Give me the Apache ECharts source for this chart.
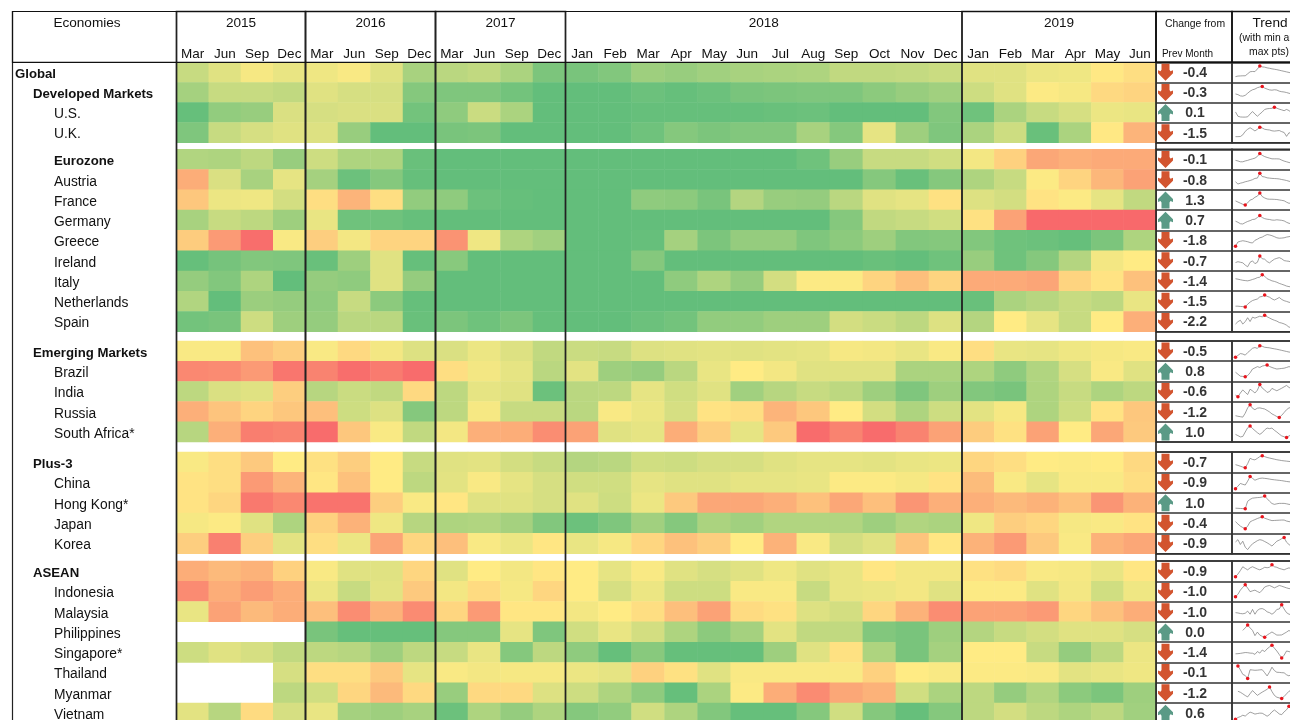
<!DOCTYPE html>
<html>
<head>
<meta charset="utf-8">
<title>Economies heatmap</title>
<script src="https://cdn.jsdelivr.net/npm/echarts@6/dist/echarts.min.js"></script>
<style>
  html, body { margin: 0; padding: 0; background: #fff; }
  #chart { width: 1290px; height: 720px; overflow: hidden; }
</style>
</head>
<body>
<div id="chart"></div>
<script>
// column headers
const years = ['2015', '2016', '2017', '2018', '2019']
const yearMonths = [
  ['Mar', 'Jun', 'Sep', 'Dec'],
  ['Mar', 'Jun', 'Sep', 'Dec'],
  ['Mar', 'Jun', 'Sep', 'Dec'],
  ['Jan', 'Feb', 'Mar', 'Apr', 'May', 'Jun', 'Jul', 'Aug', 'Sep', 'Oct', 'Nov', 'Dec'],
  ['Jan', 'Feb', 'Mar', 'Apr', 'May', 'Jun']
]

// rows, in blocks split by white gaps
const economies = [
  'Global', 'Developed Markets', 'U.S.', 'U.K.',
  'Eurozone', 'Austria', 'France', 'Germany', 'Greece', 'Ireland', 'Italy', 'Netherlands', 'Spain',
  'Emerging Markets', 'Brazil', 'India', 'Russia', 'South Africa*',
  'Plus-3', 'China', 'Hong Kong*', 'Japan', 'Korea',
  'ASEAN', 'Indonesia', 'Malaysia', 'Philippines', 'Singapore*', 'Thailand', 'Myanmar', 'Vietnam'
]
const boldRows = ['Global', 'Developed Markets', 'Eurozone', 'Emerging Markets', 'Plus-3', 'ASEAN']
const groupRows = ['Developed Markets', 'Emerging Markets', 'Plus-3', 'ASEAN']
const blockSizes = [4, 9, 5, 5, 8]

// estimated from the colours: 0 = red, 50 = yellow, 100 = green
const heatValues = [
  [68,60,53,57, 55,52,60,78, 72,70,77,92, 93,90,81,83,80,78,77,76,70,70,69,67, 60,60,56,55,49,45],
  [79,68,68,70, 60,63,63,89, 91,91,95,100, 100,100,97,99,97,93,92,91,91,87,83,80, 66,60,51,53,43,41],
  [99,85,83,62, 63,62,62,95, 86,67,77,100, 100,100,99,99,99,99,98,97,100,100,100,90, 96,77,68,63,56,57],
  [91,68,63,60, 61,83,100,100, 93,92,100,100, 100,100,96,89,92,90,90,78,89,58,81,91, 77,66,98,77,49,29],
  [75,76,71,83, 66,76,76,98, 100,100,100,100, 100,100,100,100,100,100,100,96,83,68,68,65, 54,40,24,27,25,25],
  [26,62,78,58, 79,97,89,99, 100,100,100,100, 100,100,100,100,100,100,100,100,100,89,98,89, 76,68,51,41,30,22],
  [36,56,55,64, 45,29,45,85, 86,97,99,100, 100,100,86,87,93,74,83,84,72,60,58,46, 61,64,47,51,58,70],
  [78,68,71,81, 57,96,96,99, 100,100,100,100, 100,100,100,100,100,100,100,100,89,70,68,65, 46,22,0,0,0,0],
  [38,19,2,52, 39,54,41,41, 16,55,76,80, 100,100,99,79,92,84,84,91,87,81,90,89, 90,96,97,99,92,76],
  [99,94,90,91, 98,81,60,99, 88,100,100,100, 100,100,89,100,100,100,100,100,100,98,100,96, 83,96,89,74,54,50],
  [84,90,76,100, 84,86,60,84, 100,100,100,100, 100,100,100,86,76,84,64,51,51,41,33,41, 25,25,23,41,47,34],
  [75,100,82,84, 86,68,87,99, 100,100,100,100, 100,100,100,100,100,100,100,100,100,100,100,100, 98,77,73,68,71,57],
  [95,93,66,81, 84,72,72,98, 92,96,92,99, 100,100,97,95,85,85,81,81,64,67,71,61, 74,50,58,68,50,27],
  [52,52,34,39, 52,43,54,61, 62,56,61,70, 67,68,61,60,59,60,59,58,53,54,57,52, 45,57,58,55,53,52],
  [12,13,19,5, 10,2,7,1, 45,54,58,72, 59,81,84,72,57,50,54,60,60,60,77,77, 76,86,75,63,52,60],
  [71,62,60,39, 73,67,70,43, 71,58,60,97, 72,71,58,65,60,80,73,68,71,81,91,81, 90,93,76,68,76,71],
  [27,35,41,36, 33,66,61,89, 71,53,68,68, 72,52,56,63,47,45,29,36,50,64,76,66, 59,53,76,66,47,36],
  [73,27,8,10, 1,36,52,70, 54,27,26,14, 22,60,58,26,39,58,37,1,10,1,10,22, 38,46,22,50,24,37],
  [52,45,37,50, 46,39,50,68, 60,59,64,68, 74,72,65,66,63,63,60,58,58,59,57,56, 42,45,50,51,50,43],
  [47,45,19,29, 48,34,50,71, 59,52,58,63, 65,65,58,60,60,58,58,57,51,51,53,47, 32,52,58,52,52,45],
  [47,42,6,12, 4,4,39,52, 48,60,60,63, 60,66,56,37,24,24,27,34,24,33,17,27, 27,31,28,34,17,28],
  [53,51,60,76, 40,28,55,73, 76,75,79,90, 97,91,80,89,77,80,75,75,75,81,75,77, 55,39,42,53,52,47],
  [39,9,39,59, 45,56,23,42, 33,52,56,48, 57,53,42,34,39,50,28,52,64,60,35,48, 28,19,37,52,28,24],
  [26,31,28,40, 52,60,60,42, 60,50,54,48, 50,58,52,60,63,60,55,60,57,48,54,54, 46,44,52,53,57,48],
  [13,26,20,26, 56,68,59,37, 54,44,53,42, 50,63,56,66,66,52,52,68,57,56,54,60, 51,51,60,54,65,55],
  [57,22,31,26, 33,14,28,13, 42,19,48,48, 54,50,45,33,22,44,46,61,64,42,28,14, 22,22,19,42,34,26],
  [null,null,null,null, 93,99,99,99, 89,89,58,91, 65,57,64,76,87,79,59,70,70,90,93,81, 74,68,64,60,60,63],
  [66,60,63,70, 71,73,81,71, 68,57,89,71, 86,99,88,99,99,99,81,60,46,76,93,79, 50,50,68,84,71,56],
  [null,null,null,63, 45,45,37,58, 52,54,53,53, 56,58,40,46,60,52,52,52,52,40,50,52, 51,51,52,59,57,55],
  [null,null,null,71, 65,42,31,43, 83,43,43,61, 66,76,86,99,77,51,26,13,24,28,65,77, 71,84,75,87,92,81],
  [59,73,44,63, 57,79,81,78, 97,76,84,76, 89,85,65,76,90,99,99,89,65,89,99,89, 71,64,71,76,71,80]
]

const changeValues = [
  -0.4, -0.3, 0.1, -1.5,
  -0.1, -0.8, 1.3, 0.7, -1.8, -0.7, -1.4, -1.5, -2.2,
  -0.5, 0.8, -0.6, -1.2, 1.0,
  -0.7, -0.9, 1.0, -0.4, -0.9,
  -0.9, -1.0, -1.0, 0.0, -1.4, -0.1, -1.2, 0.6
]

// sparkline levels, the last points run past the picture's edge
const trendValues = [
  [2,2.4,2.5,2.6,2.6,4,5.5,5.7,5.6,7.5,9.6,9,8.8,8.3,8,7.6,7.3,7,6.6,6.2,5.8,5.4,5,4.6,4,3.4,2.8,2.2,1.6,1],
  [4,3.5,2.6,2.4,3,4.5,6,7,7.5,8.5,9,9.3,8.2,7.5,6.9,6.7,7,6.8,6,5.6,5.4,5,4.5,4,3.5,3,2.5,2,1.5,1],
  [5.5,2.4,1.9,1.8,1.8,2,4,5.8,4,2.4,4,5.5,7.3,7.8,8,8.1,8.9,8.2,7.5,7,6.4,7.3,6.5,5,4,3,2,1.5,1.2,1],
  [2.2,2.2,2.3,3.5,6,7.5,8.6,7.5,6.3,7.5,8.9,8.4,7.5,7.2,7,6.4,6.2,6.4,6.6,5.8,5.2,2.4,5,4.5,4,3.5,3,2.5,2,1.4],
  [4.4,4,3.4,3.4,4,4.4,5,5.5,6,7.2,9.3,8,7.1,6.5,6,5.5,5.5,5.5,5.4,4.6,3.9,3.4,2.9,2.5,2.2,2,1.8,1.5,1.2,1],
  [3.6,2,2.6,3,3.6,4,4.5,5.1,6,6.2,9.6,7.3,7,6.4,6.2,6,5.9,5.8,5.6,5.2,4.9,4.5,4,3.5,3,2.6,2.2,1.8,1.4,1],
  [4.4,3.6,2.8,2,1.5,3,5,5.6,7,7.8,10,7.5,6.5,5.8,5.6,5.6,5.5,5.4,5.1,4.8,4.5,3.5,2.7,3,3.2,2.8,3,2.5,2.6,2.2],
  [4.4,3.6,2.6,2.4,3.4,4.2,4.8,5.6,5.8,7,8.4,7,6.2,5.8,5.6,5.2,5.1,5.4,5.2,5,4.6,3.6,2.9,2.6,2.3,2,1.8,1.6,1.3,1],
  [1,4,4.5,4.9,4.6,4.2,3.6,3.3,5.2,6,7,7.5,8.5,9.3,9,8.5,7.8,7,6.7,6.8,7,7.5,7.8,8.2,8.6,9,9.5,10,9.6,9],
  [3.8,4.4,4,3.6,2,0.8,4,5,3,4,8.4,6.5,6.2,4.5,3.6,5,6.2,6.8,7.3,6.5,5.2,4.9,4.7,4,3,2,0.4,1.5,2,2.5],
  [6.7,6.4,6,5.6,5.4,5.2,5.6,6.2,6.7,7.5,7.8,9.6,8.5,6.7,6,5.2,4.8,4.2,3.4,2.8,2.2,1.5,1.1,0.9,0.7,0.6,0.5,0.4,0.3,0.2],
  [1.6,1.6,1.4,1.3,1,3,4.5,5.6,6.2,6.7,8.2,8.5,9.6,8.6,8,6.8,6,6.8,7.8,6.4,5.5,5,4.4,4,4.4,4.8,4.2,3.6,3,2.6],
  [3.3,5,6,3.3,5,7.8,5.1,8.2,7.5,8.2,8.9,8.4,9.6,8.5,7.6,6.7,6,5.4,4.4,4,3.4,2.5,1.1,1,0.9,0.8,0.7,0.6,0.5,0.4],
  [0.7,2,3.3,3,2.2,4,5.5,7.1,7.6,7,8.9,8.5,7.8,7.6,7.4,7,6.7,6.4,6,5.6,5.2,4.8,4.4,4.2,4,3.8,3.6,3.4,3.2,3],
  [4.4,3,1.6,1.4,1.1,2,4,6.7,7.5,8.4,7.8,8.8,9.2,9.6,8.5,7.8,7.2,6.7,6.9,7.1,7.3,7.8,8.4,8,7.6,7.2,6.8,6.4,6,5.6],
  [2.5,1.3,4,6.2,4.5,2.9,6.7,5.5,4,6,10,7.5,6.2,4.4,5,7.3,6.4,5.6,6.5,7.4,8.4,9.4,8,7,6.5,6,5.5,5,4.5,4],
  [2.2,1.8,1.5,1.2,4,7.8,10,7.5,6.5,7.6,7.8,7.4,7,6,4.9,3.5,2.6,1.6,1,2.5,4.5,6.5,7.8,8,7,6,5,4.5,5,4],
  [3.3,2.4,1.5,1.8,5,8,9.3,7.5,6,4.5,3.3,4.5,6.5,7.8,7.4,7.8,6.2,5,3.5,2.2,1.6,1,2.2,3,5,6,4,3,5,4],
  [3.3,2.8,2.2,1.6,1.1,4,7.8,7,6.7,7.8,9,9.6,9,8.4,8,7.6,7.2,6.8,6.5,6.2,6,5.8,5.6,5.4,5.2,5,4.8,4.6,4.4,4.2],
  [0.7,2.5,4.4,3.8,3.3,6,9.3,8,6.7,7.4,8,8.2,8,7.8,7.5,7.2,7,6.8,6.6,6.4,6.1,5.8,5.6,5.4,5.2,5,4.9,4.8,4.7,4.6],
  [1.3,1.2,1.1,1,0.9,6.2,7.5,8.4,8.6,8.8,8.9,9.2,10,8,6.2,4.6,4,4.4,4.7,4.7,4.7,4.4,4,3.8,3.6,3.4,3.2,3,2.8,2.6],
  [6.2,4.5,3,2,1.1,3,6,6.9,7.6,8.4,9,9.6,8.6,8,7.4,6.9,7,7.1,7.2,7.3,7.3,6.6,6.2,6,5.8,5.6,5.4,5.2,5,4.8],
  [6.2,7.8,4.4,6.7,2.5,0.8,3,4.9,6,7.1,7.8,7.4,6.5,5.6,4.5,3.3,5,6.7,7.5,8.5,9.3,6,4.4,3,2,0.4,2.5,3.5,4.5,3],
  [1.1,3,5.5,8.2,7,6,7.4,8.2,7.4,6.6,6,6.8,7.8,7.5,7.8,9.6,8.2,7.8,7,6.5,6,6.8,7.4,6.8,6.4,7,6.5,6,5.5,5],
  [1.3,3,6,8,9.8,7.5,4.9,5.5,6,5,4.2,6,8.2,8.9,9.3,8.5,7.6,8.4,9.3,8.8,8.2,7.6,7.1,7,6.8,6.5,6.2,6,5.8,5.6],
  [4.4,4.2,3.8,3.6,4,5.5,3.3,6.7,3.3,6,7.1,7.3,6.5,5,4.4,3.3,4.5,6.7,7,10,7,4.4,3.3,3,2,1,2,3,4,3],
  [null,null,null,6.2,8,10,8,6.2,2.5,5,2.9,2,1.3,2.9,4,5.1,4,2.9,2.9,3,4,5,6.2,5,4,5,6,5,4,5],
  [4,4.1,4.3,4.6,4.9,4.8,4.5,4.4,3.6,5.6,4.5,6.7,5.6,7.5,8.9,10,8,6,3.5,1.1,3,6,5.6,5,4.5,5,4.5,4,3.5,3],
  [null,9.8,7,3.8,3,0.9,7.1,6.9,6.7,6.8,7,7.1,5,2.7,5.5,8.9,6.5,5.3,5.2,5,4.9,3.5,2.7,4,5,6,4.5,4,3.5,3],
  [null,6.2,5.5,4.4,3.2,2.2,4.5,6.7,5,3.3,4.5,5.6,6.6,7.6,9.3,6,3.3,2,1.5,1.1,2.5,4.4,6.2,7,6,5,6,5,4,5],
  [0.7,2,2.6,3.6,3,4.5,5.8,5.2,4.4,4.8,5.1,5,4,2.9,4,6,7.3,6,4.5,4,6,7.5,10,9,8,7,8,7,6,5]
]

// page layout
const blockEdges = [[62.3, 142.7], [149.3, 331.7], [341, 442], [452, 553.7], [561, 723.3]]
const yearEdges = [176.5, 305.5, 435.5, 565.5, 962, 1156]
const changeEdges = [1156, 1232]
const trendEdges = [1232, 1308]
const tableTop = 11.5
const labelShift = 2
const fontFamily = '"Liberation Sans", Arial, sans-serif'
const downArrow = 'path://M3.5,0 L11.5,0 L11.5,6 L12.5,7.5 L15,6.5 L15,9.5 L7.5,17 L0,9.5 L0,6.5 L2.5,7.5 L3.5,6 Z'
const upArrow = 'path://M3.5,17 L11.5,17 L11.5,11 L12.5,9.5 L15,10.5 L15,7.5 L7.5,0 L0,7.5 L0,10.5 L2.5,9.5 L3.5,11 Z'

const grid = []
const xAxis = []
const yAxis = []
const series = []
const heatSeriesIds = []

const addGrid = (left, right, top, bottom, extra) => {
  grid.push({ left, top, width: right - left, height: bottom - top, show: false, outerBoundsMode: 'none', ...extra })
  return grid.length - 1
}

const hiddenAxis = (gridIndex, data, extra) => ({
  type: 'category', gridIndex, data, show: false, ...extra
})

// one label style per economy: indent and weight depend on its rank in the table
const economyLabel = name => ({
  value: name,
  textStyle: {
    align: 'left',
    fontWeight: boldRows.includes(name) ? 'bold' : 'normal',
    fontSize: boldRows.includes(name) ? 13.2 : 13.8,
    padding: [0, 0, 0, name === 'Global' ? 0 : groupRows.includes(name) ? 18 : 39]
  }
})

let rowStart = 0
blockSizes.forEach((rowCount, b) => {
  const [top, bottom] = blockEdges[b]
  const rowNames = economies.slice(rowStart, rowStart + rowCount)

  // economy names sit a little below the row centre, so they get their own grid
  const lg = addGrid(yearEdges[0], yearEdges[1], top + labelShift, bottom + labelShift)
  xAxis.push(hiddenAxis(lg, ['Economies']))
  yAxis.push(hiddenAxis(lg, rowNames.map(economyLabel), {
    inverse: true,
    show: true,
    axisLine: { show: false },
    axisTick: { show: false },
    axisLabel: { interval: 0, margin: 161.5, color: '#111', fontFamily }
  }))

  // heat cells, one grid per year so that year columns can differ in width
  let colStart = 0
  years.forEach((year, y) => {
    const months = yearMonths[y]
    const g = addGrid(yearEdges[y], yearEdges[y + 1], top, bottom)
    xAxis.push(hiddenAxis(g, months, b > 0 ? {} : {
      show: true,
      position: 'top',
      axisLine: { show: false },
      axisTick: { show: false },
      axisLabel: { interval: 0, margin: 1.5, fontSize: 13.5, color: '#111', fontFamily },
      name: year,
      nameLocation: 'middle',
      nameGap: 32,
      nameTextStyle: { fontSize: 13.6, color: '#111', fontFamily }
    }))
    yAxis.push(hiddenAxis(g, rowNames, { inverse: true }))
    const cells = []
    rowNames.forEach((_, r) => {
      months.forEach((_, c) => {
        const v = heatValues[rowStart + r][colStart + c]
        if (v !== null) cells.push([c, r, v])
      })
    })
    heatSeriesIds.push(series.length)
    series.push({
      type: 'heatmap',
      xAxisIndex: g,
      yAxisIndex: g,
      data: cells,
      itemStyle: { borderWidth: 0 }
    })
    colStart += months.length
  })

  // change from previous month: arrow plus number
  const cg = addGrid(changeEdges[0], changeEdges[1], top, bottom, {
    show: true, borderColor: '#333', borderWidth: 1.5
  })
  xAxis.push(hiddenAxis(cg, ['Change']))
  yAxis.push(hiddenAxis(cg, rowNames, {
    show: true,
    inverse: true,
    axisLine: { show: false },
    axisTick: { show: false },
    axisLabel: { show: false },
    splitLine: { show: true, interval: 0, lineStyle: { color: '#333', width: 1.5 } }
  }))
  const changes = changeValues.slice(rowStart, rowStart + rowCount)
  series.push({
    type: 'scatter',
    xAxisIndex: cg,
    yAxisIndex: cg,
    symbolOffset: [-28.5, 0],
    symbolSize: [15, 17],
    data: changes.map((v, r) => ({
      value: [0, r],
      symbol: v >= 0 ? upArrow : downArrow,
      itemStyle: { color: v >= 0 ? '#5a9a86' : '#d2542f', opacity: 1 }
    }))
  })
  series.push({
    type: 'scatter',
    xAxisIndex: cg,
    yAxisIndex: cg,
    symbolSize: 1,
    itemStyle: { color: 'transparent' },
    label: {
      show: true,
      position: 'inside',
      offset: [1, 1],
      fontSize: 14,
      fontWeight: 'bold',
      color: '#000',
      fontFamily,
      formatter: p => changes[p.dataIndex].toFixed(1)
    },
    data: changes.map((v, r) => [0, r])
  })

  // trend cell borders, then one small grid for every sparkline
  const tg = addGrid(trendEdges[0], trendEdges[1], top, bottom, {
    show: true, borderColor: '#333', borderWidth: 1.5
  })
  xAxis.push(hiddenAxis(tg, ['Trend']))
  yAxis.push(hiddenAxis(tg, rowNames, {
    show: true,
    inverse: true,
    axisLine: { show: false },
    axisTick: { show: false },
    axisLabel: { show: false },
    splitLine: { show: true, interval: 0, lineStyle: { color: '#333', width: 1.5 } }
  }))
  const rowHeight = (bottom - top) / rowCount
  rowNames.forEach((_, r) => {
    const sg = addGrid(trendEdges[0] + 3.5, trendEdges[1] - 2, top + r * rowHeight + 2.5, top + (r + 1) * rowHeight - 3)
    xAxis.push({ type: 'value', gridIndex: sg, min: 0, max: 29, show: false })
    yAxis.push({ type: 'value', gridIndex: sg, min: 0, max: 10.5, show: false })
    series.push({
      type: 'line',
      xAxisIndex: sg,
      yAxisIndex: sg,
      showSymbol: false,
      silent: true,
      clip: false,
      lineStyle: { color: '#777', width: 0.7 },
      data: trendValues[rowStart + r].map((v, i) => [i, v]),
      markPoint: {
        symbol: 'circle',
        symbolSize: 3.5,
        itemStyle: { color: '#e8141c' },
        label: { show: false },
        silent: true,
        data: [{ type: 'max', valueDim: 'y' }, { type: 'min', valueDim: 'y' }]
      }
    })
  })

  rowStart += rowCount
})

// table rules: economies column, year columns, header band
const frameEdges = [12.5].concat(yearEdges)
frameEdges.slice(0, -1).forEach((left, i) => {
  addGrid(left, frameEdges[i + 1], tableTop, 760, {
    show: true, z: 10, borderColor: '#222', borderWidth: i === 0 || i === 4 ? 1.2 : 1.6, backgroundColor: 'transparent'
  })
})
addGrid(12.5, yearEdges[5], tableTop, blockEdges[0][0], {
  show: true, z: 10, borderColor: '#111', borderWidth: 1.2, backgroundColor: 'transparent'
})
addGrid(changeEdges[0], changeEdges[1], tableTop, blockEdges[0][0], {
  show: true, z: 10, borderColor: '#111', borderWidth: 1.5, backgroundColor: 'transparent'
})
addGrid(trendEdges[0], trendEdges[1], tableTop, blockEdges[0][0], {
  show: true, z: 10, borderColor: '#111', borderWidth: 1.5, backgroundColor: 'transparent'
})

const headerText = (text, x, y, fontSize) => ({
  text,
  left: x,
  top: y,
  textAlign: 'center',
  padding: 0,
  textStyle: { fontSize, fontWeight: 'normal', color: '#111', fontFamily }
})

const chart = echarts.init(document.getElementById('chart'), null, { renderer: 'canvas' })
chart.setOption({
  animation: false,
  backgroundColor: '#fff',
  title: [
    headerText('Economies', 87, 16, 13.6),
    headerText('Change from', 1195, 19, 10.4),
    headerText('Prev Month', 1187.5, 49, 10),
    headerText('Trend', 1270, 16, 13.6),
    headerText('(with min and', 1270, 33, 10.4),
    headerText('max pts)', 1269, 47, 10.4)
  ],
  visualMap: {
    show: false,
    type: 'continuous',
    min: 0,
    max: 100,
    dimension: 2,
    seriesIndex: heatSeriesIds,
    inRange: { color: ['#f8696b', '#ffeb84', '#63be7b'] }
  },
  grid,
  xAxis,
  yAxis,
  series
})
</script>
</body>
</html>
